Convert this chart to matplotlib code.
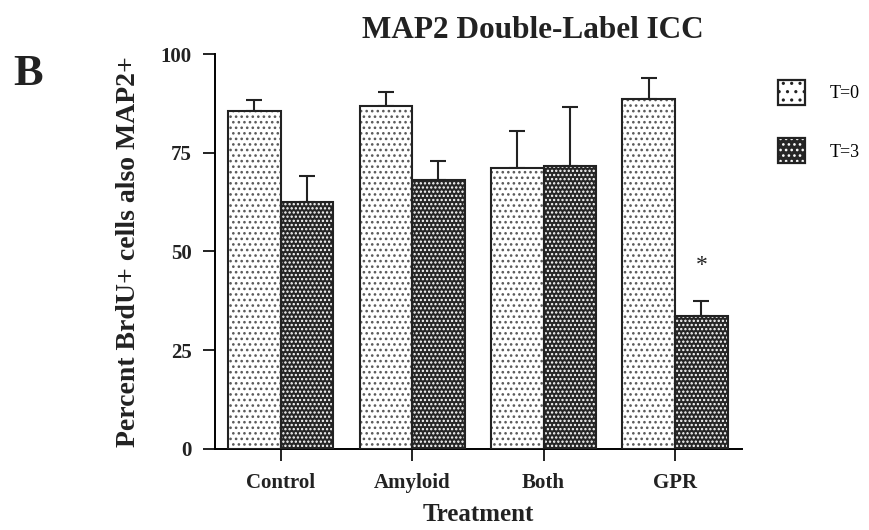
import matplotlib

matplotlib.use("Agg")

import matplotlib.pyplot as plt
import numpy as np
from matplotlib.patches import Patch

treatments = ["Control", "Amyloid", "Both", "GPR"]
t0_means = [85.6, 86.8, 71.1, 88.6]
t0_errors = [2.8, 3.6, 9.4, 5.3]
t3_means = [62.5, 68.1, 71.6, 33.7]
t3_errors = [6.6, 4.8, 15.0, 3.8]
series_labels = ["T=0", "T=3"]

SERIF = ["Liberation Serif", "DejaVu Serif"]
INK = "#222222"
LIGHT_FACE = "white"
DARK_FACE = "#262626"
LIGHT_DOTS = "#5a5a5a"
DARK_DOTS = "white"

plt.rcParams["hatch.linewidth"] = 1.1

fig = plt.figure(figsize=(8.7, 5.3), dpi=100)
axis = fig.add_axes([0.247, 0.153, 0.606, 0.745])

x_positions = np.arange(len(treatments))
width = 0.4


def draw_series(offset, means, errors, face, dot_color, hatch):
    xs = x_positions + offset
    # dotted fill first, outline on top
    axis.bar(xs, means, width, color=face, edgecolor=dot_color, hatch=hatch, linewidth=0, zorder=2)
    axis.bar(xs, means, width, fill=False, edgecolor=INK, linewidth=1.5, zorder=3)
    axis.errorbar(
        xs,
        means,
        yerr=[np.zeros(len(errors)), errors],
        fmt="none",
        ecolor=INK,
        elinewidth=1.5,
        capsize=6,
        capthick=1.5,
        zorder=1,
    )


draw_series(-width / 2, t0_means, t0_errors, LIGHT_FACE, LIGHT_DOTS, "...")
draw_series(width / 2, t3_means, t3_errors, DARK_FACE, DARK_DOTS, "....")

axis.text(3 + width / 2, 46.5, "*", ha="center", va="center", fontsize=17, family=SERIF, color=INK)

axis.set_xlim(-0.5, 3.51)
axis.set_ylim(0, 100)
axis.set_yticks([0, 25, 50, 75, 100])
axis.set_xticks(x_positions)
axis.set_xticklabels(treatments)
axis.spines["top"].set_visible(False)
axis.spines["right"].set_visible(False)
axis.spines["left"].set_linewidth(1.4)
axis.spines["bottom"].set_linewidth(1.4)
axis.tick_params(axis="both", direction="out", length=8.5, width=1.4, colors=INK)
axis.tick_params(axis="y", pad=8)
axis.tick_params(axis="x", pad=9)

for label in axis.get_xticklabels() + axis.get_yticklabels():
    label.set_family(SERIF)
    label.set_fontweight("bold")
    label.set_fontsize(15)

axis.set_xlabel("Treatment", family=SERIF, fontweight="bold", fontsize=18, labelpad=7, color=INK)
axis.set_ylabel("Percent BrdU+ cells also MAP2+", family=SERIF, fontweight="bold", fontsize=20,
                labelpad=14, color=INK)
fig.text(0.612, 0.942, "MAP2 Double-Label ICC", family=SERIF, fontweight="bold", fontsize=22.5,
         ha="center", va="center", color=INK)

fig.text(0.015, 0.86, "B", family=SERIF, fontweight="bold", fontsize=32, ha="left", va="center", color=INK)

# legend keys: dotted fill with an outline drawn over it
handles = [
    (Patch(facecolor=LIGHT_FACE, edgecolor=INK, hatch="..", linewidth=0),
     Patch(fill=False, edgecolor=INK, linewidth=1.6)),
    (Patch(facecolor=DARK_FACE, edgecolor=DARK_DOTS, hatch="...", linewidth=0),
     Patch(fill=False, edgecolor=INK, linewidth=1.6)),
]
fig.legend(
    handles=handles,
    labels=series_labels,
    loc="upper left",
    bbox_to_anchor=(0.876, 0.88),
    frameon=False,
    handlelength=1.45,
    handleheight=1.75,
    labelspacing=1.85,
    handletextpad=1.4,
    prop={"family": SERIF, "size": 13},
)

fig.savefig("out.png", dpi=100)
